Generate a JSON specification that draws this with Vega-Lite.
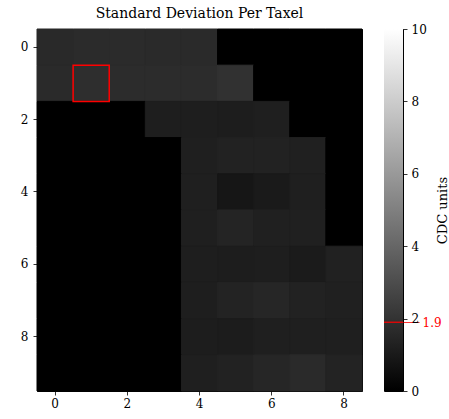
{
  "$schema": "https://vega.github.io/schema/vega-lite/v6.json",
  "padding": {"left": 5, "top": 6, "right": 0, "bottom": 0},
  "background": "white",
  "config": {
    "font": "DejaVu Serif",
    "view": {"stroke": "black", "strokeWidth": 1},
    "axis": {"labelFont": "DejaVu Serif", "labelFontSize": 12, "labelColor": "black", "tickColor": "black", "tickSize": 4, "tickWidth": 0.8, "domain": false, "grid": false, "titleFont": "DejaVu Serif", "titleFontWeight": "normal", "titleColor": "black"}
  },
  "spacing": 19,
  "datasets": {
    "cells": [
      {"r":0,"c":0,"v":1.61},{"r":0,"c":1,"v":1.69},{"r":0,"c":2,"v":1.69},{"r":0,"c":3,"v":1.65},{"r":0,"c":4,"v":1.65},{"r":0,"c":5,"v":0},{"r":0,"c":6,"v":0},{"r":0,"c":7,"v":0},{"r":0,"c":8,"v":0},
      {"r":1,"c":0,"v":1.65},{"r":1,"c":1,"v":1.80},{"r":1,"c":2,"v":1.73},{"r":1,"c":3,"v":1.73},{"r":1,"c":4,"v":1.73},{"r":1,"c":5,"v":1.92},{"r":1,"c":6,"v":0},{"r":1,"c":7,"v":0},{"r":1,"c":8,"v":0},
      {"r":2,"c":0,"v":0},{"r":2,"c":1,"v":0},{"r":2,"c":2,"v":0},{"r":2,"c":3,"v":1.18},{"r":2,"c":4,"v":1.18},{"r":2,"c":5,"v":1.14},{"r":2,"c":6,"v":1.22},{"r":2,"c":7,"v":0},{"r":2,"c":8,"v":0},
      {"r":3,"c":0,"v":0},{"r":3,"c":1,"v":0},{"r":3,"c":2,"v":0},{"r":3,"c":3,"v":0},{"r":3,"c":4,"v":1.22},{"r":3,"c":5,"v":1.33},{"r":3,"c":6,"v":1.33},{"r":3,"c":7,"v":1.25},{"r":3,"c":8,"v":0},
      {"r":4,"c":0,"v":0},{"r":4,"c":1,"v":0},{"r":4,"c":2,"v":0},{"r":4,"c":3,"v":0},{"r":4,"c":4,"v":1.22},{"r":4,"c":5,"v":0.86},{"r":4,"c":6,"v":1.02},{"r":4,"c":7,"v":1.22},{"r":4,"c":8,"v":0},
      {"r":5,"c":0,"v":0},{"r":5,"c":1,"v":0},{"r":5,"c":2,"v":0},{"r":5,"c":3,"v":0},{"r":5,"c":4,"v":1.22},{"r":5,"c":5,"v":1.41},{"r":5,"c":6,"v":1.25},{"r":5,"c":7,"v":1.25},{"r":5,"c":8,"v":0},
      {"r":6,"c":0,"v":0},{"r":6,"c":1,"v":0},{"r":6,"c":2,"v":0},{"r":6,"c":3,"v":0},{"r":6,"c":4,"v":1.18},{"r":6,"c":5,"v":1.14},{"r":6,"c":6,"v":1.18},{"r":6,"c":7,"v":1.06},{"r":6,"c":8,"v":1.29},
      {"r":7,"c":0,"v":0},{"r":7,"c":1,"v":0},{"r":7,"c":2,"v":0},{"r":7,"c":3,"v":0},{"r":7,"c":4,"v":1.18},{"r":7,"c":5,"v":1.37},{"r":7,"c":6,"v":1.49},{"r":7,"c":7,"v":1.33},{"r":7,"c":8,"v":1.25},
      {"r":8,"c":0,"v":0},{"r":8,"c":1,"v":0},{"r":8,"c":2,"v":0},{"r":8,"c":3,"v":0},{"r":8,"c":4,"v":1.14},{"r":8,"c":5,"v":1.10},{"r":8,"c":6,"v":1.22},{"r":8,"c":7,"v":1.22},{"r":8,"c":8,"v":1.22},
      {"r":9,"c":0,"v":0},{"r":9,"c":1,"v":0},{"r":9,"c":2,"v":0},{"r":9,"c":3,"v":0},{"r":9,"c":4,"v":1.22},{"r":9,"c":5,"v":1.33},{"r":9,"c":6,"v":1.49},{"r":9,"c":7,"v":1.65},{"r":9,"c":8,"v":1.37}
    ],
    "highlight": [{"r": 1, "c": 1}],
    "bar": [{"lo": 0, "hi": 10}],
    "threshold": [{"t": 1.9}]
  },
  "hconcat": [
    {
      "title": {"text": "Standard Deviation Per Taxel", "font": "DejaVu Serif", "fontSize": 14, "fontWeight": "normal", "anchor": "middle", "offset": 8, "color": "black"},
      "width": 325,
      "height": 362,
      "view": {"fill": "#000000", "stroke": "black"},
      "layer": [
        {
          "data": {"name": "cells"},
          "mark": {"type": "rect", "strokeWidth": 1},
          "encoding": {
            "x": {"field": "c", "type": "ordinal", "scale": {"domain": [0,1,2,3,4,5,6,7,8], "paddingInner": 0, "paddingOuter": 0}, "axis": {"title": null, "values": [0,2,4,6,8], "labelAngle": 0, "labelPadding": 3}},
            "y": {"field": "r", "type": "ordinal", "scale": {"domain": [0,1,2,3,4,5,6,7,8,9], "paddingInner": 0, "paddingOuter": 0}, "axis": {"title": null, "values": [0,2,4,6,8], "minExtent": 31, "maxExtent": 31, "labelPadding": 5}},
            "color": {"field": "v", "type": "quantitative", "scale": {"domain": [0, 10], "range": ["#000000", "#ffffff"], "interpolate": "rgb"}, "legend": null},
            "stroke": {"field": "v", "type": "quantitative", "scale": {"domain": [0, 10], "range": ["#000000", "#ffffff"], "interpolate": "rgb"}, "legend": null}
          }
        },
        {
          "data": {"name": "highlight"},
          "mark": {"type": "rect", "fill": null, "fillOpacity": 0, "stroke": "#ff0000", "strokeWidth": 1.5},
          "encoding": {
            "x": {"field": "c", "type": "ordinal"},
            "y": {"field": "r", "type": "ordinal"}
          }
        }
      ]
    },
    {
      "width": 19,
      "height": 362,
      "layer": [
        {
          "data": {"name": "bar"},
          "mark": {"type": "rect", "fill": {"gradient": "linear", "x1": 0, "y1": 1, "x2": 0, "y2": 0, "stops": [{"offset": 0, "color": "#000000"}, {"offset": 1, "color": "#ffffff"}]}},
          "encoding": {
            "y": {"field": "lo", "type": "quantitative", "scale": {"domain": [0, 10], "nice": false}, "axis": {"orient": "right", "values": [0, 1.9, 2, 4, 6, 8, 10], "labelOverlap": false, "labelExpr": "datum.value == 1.9 ? '1.9' : format(datum.value, 'd')", "labelColor": {"condition": {"test": "datum.value == 1.9", "value": "#ff0000"}, "value": "#000000"}, "tickColor": {"condition": {"test": "datum.value == 1.9", "value": "#ff0000"}, "value": "#000000"}, "tickSize": {"condition": {"test": "datum.value == 1.9", "value": 16}, "value": 4}, "labelPadding": {"condition": {"test": "datum.value == 1.9", "value": 3}, "value": 4}, "title": "CDC units", "titleAngle": 270, "titleFontSize": 13, "titlePadding": 8}},
            "y2": {"field": "hi"}
          }
        },
        {
          "data": {"name": "threshold"},
          "mark": {"type": "rule", "color": "#ff0000", "strokeWidth": 1.2},
          "encoding": {
            "y": {"field": "t", "type": "quantitative"}
          }
        }
      ]
    }
  ]
}
